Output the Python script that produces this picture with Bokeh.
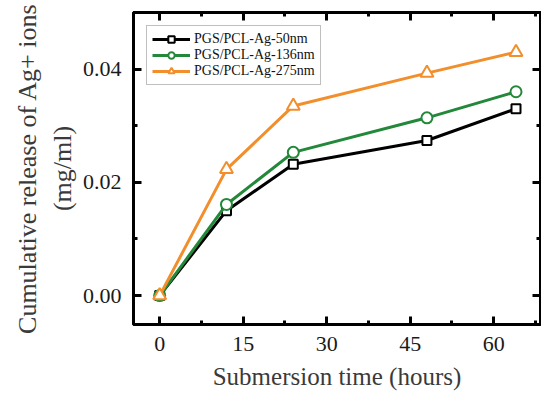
from bokeh.plotting import figure
from bokeh.models import (LinearAxis, SingleIntervalTicker, NumeralTickFormatter,
                          Legend, LegendItem, Range1d)
from bokeh.embed import file_html
from bokeh.resources import INLINE

hours = [0, 12, 24, 48, 64]
ag_50 = [0.0, 0.0150, 0.0232, 0.0274, 0.0330]
ag_136 = [0.0, 0.0161, 0.0253, 0.0314, 0.0360]
ag_275 = [0.0, 0.0223, 0.0335, 0.0393, 0.0430]
series_names = ["PGS/PCL-Ag-50nm", "PGS/PCL-Ag-136nm", "PGS/PCL-Ag-275nm"]

FONT = "Liberation Serif"
BLACK = "#000000"
GREEN = "#23883a"
ORANGE = "#f28e2b"

p = figure(width=541, height=392, output_backend="svg", toolbar_location=None,
           x_range=Range1d(-4.7, 68.4), y_range=Range1d(-0.0051, 0.050),
           min_border_left=133, min_border_right=1, min_border_top=12, min_border_bottom=10)
p.grid.visible = False
p.background_fill_color = "white"
p.border_fill_color = "white"
p.outline_line_color = "black"
p.outline_line_width = 3

r1l = p.line(hours, ag_50, line_color=BLACK, line_width=3)
r1m = p.scatter(hours, ag_50, marker="square", size=9, line_color=BLACK, line_width=2, fill_color="white")
r2l = p.line(hours, ag_136, line_color=GREEN, line_width=3)
r2m = p.scatter(hours, ag_136, marker="circle", size=11, line_color=GREEN, line_width=2, fill_color="white")
r3l = p.line(hours, ag_275, line_color=ORANGE, line_width=3)
r3m = p.scatter(hours, ag_275, marker="triangle", size=13, line_color=ORANGE, line_width=2, fill_color="white")

xt = SingleIntervalTicker(interval=15, num_minor_ticks=2)
yt = SingleIntervalTicker(interval=0.02, num_minor_ticks=2)

def style(ax):
    ax.axis_line_width = 3
    ax.axis_line_color = "black"
    ax.major_tick_line_width = 3
    ax.minor_tick_line_width = 3
    ax.major_tick_in = 8
    ax.major_tick_out = 0
    ax.minor_tick_in = 4
    ax.minor_tick_out = 0
    ax.major_label_text_font = FONT
    ax.major_label_text_font_size = "22px"
    ax.major_label_text_color = "#1a1a1a"
    ax.axis_label_text_font = FONT
    ax.axis_label_text_font_style = "normal"
    ax.axis_label_text_font_size = "25px"
    ax.axis_label_text_color = "#3a3a3a"

xa = p.xaxis[0]
xa.ticker = xt
style(xa)
xa.major_label_standoff = 12
xa.axis_label = "Submersion time (hours)"
xa.axis_label_standoff = 9

ya = p.yaxis[0]
ya.ticker = yt
ya.formatter = NumeralTickFormatter(format="0.00")
style(ya)
ya.major_label_standoff = 12
ya.axis_label = "Cumulative release of Ag+ ions\n(mg/ml)"
ya.axis_label_text_font_size = "26px"
ya.axis_label_standoff = 3

for loc, ticker in (("right", yt), ("above", xt)):
    ax = LinearAxis(ticker=ticker)
    style(ax)
    ax.major_label_text_font_size = "0px"
    ax.major_label_standoff = 0
    p.add_layout(ax, loc)

legend = Legend(items=[
    LegendItem(label=series_names[0], renderers=[r1l, r1m]),
    LegendItem(label=series_names[1], renderers=[r2l, r2m]),
    LegendItem(label=series_names[2], renderers=[r3l, r3m]),
], location="top_left")
legend.label_text_font = FONT
legend.label_text_font_size = "14px"
legend.label_text_color = "#111111"
legend.glyph_width = 38
legend.glyph_height = 16
legend.label_height = 16
legend.label_standoff = 4
legend.spacing = 0
legend.padding = 5
legend.margin = 13
legend.border_line_color = "#808080"
legend.border_line_width = 1
legend.background_fill_color = "white"
legend.background_fill_alpha = 1
p.add_layout(legend, "center")

open("out.html", "w").write(file_html(p, INLINE))
